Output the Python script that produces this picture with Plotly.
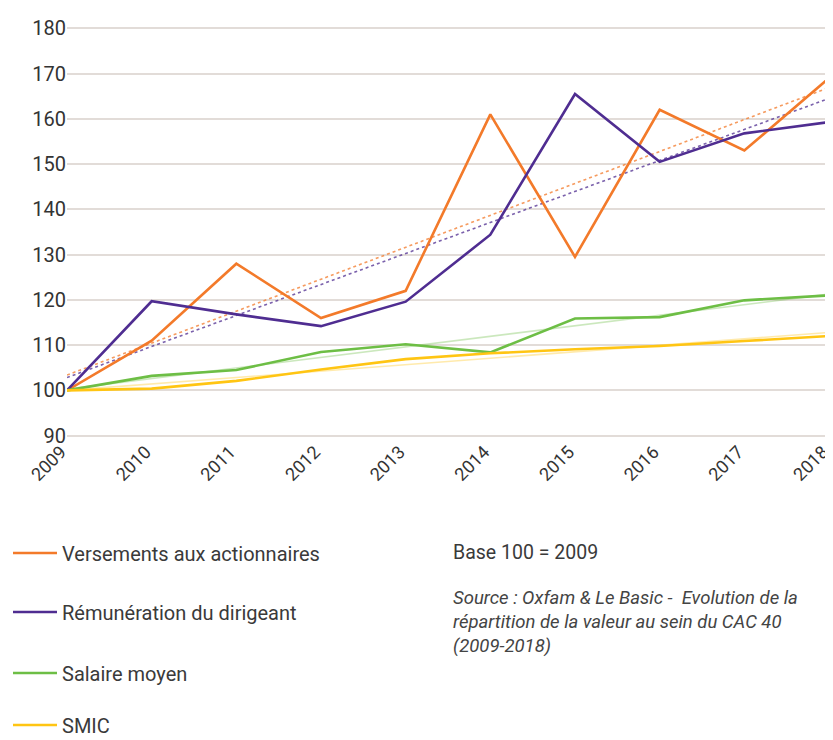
import numpy as np
import plotly.graph_objects as go

years = [2009, 2010, 2011, 2012, 2013, 2014, 2015, 2016, 2017, 2018]
year_labels = [str(y) for y in years]

versements = [100, 111, 128, 116, 122, 161, 129.5, 162, 153, 169]
remuneration = [100, 119.7, 116.8, 114.2, 119.6, 134.4, 165.5, 150.5, 156.8, 159.3]
salaire = [100, 103.2, 104.5, 108.5, 110.2, 108.4, 115.9, 116.2, 119.9, 121]
smic = [100, 100.4, 102.1, 104.6, 106.9, 108.2, 109.1, 109.8, 110.9, 112]

series = [
    ("Versements aux actionnaires", versements, "#F37A2A"),
    ("Rémunération du dirigeant", remuneration, "#4F2D91"),
    ("Salaire moyen", salaire, "#6DBE45"),
    ("SMIC", smic, "#FFC513"),
]

FONT = "Roboto, 'Noto Sans', sans-serif"
W, H = 825, 732  # page body keeps an 8px margin

fig = go.Figure()

# trendlines (linear fit, like the Excel source)
xs = np.arange(len(years))
for i, (name, vals, color) in enumerate(series):
    slope, icpt = np.polyfit(xs, vals, 1)
    trend = list(icpt + slope * xs)
    if i < 2:
        line = dict(color=color, width=1.6, dash="dot")
        op = 0.75
    else:
        line = dict(color=color, width=1.6)
        op = 0.35
    fig.add_trace(go.Scatter(
        x=year_labels, y=trend, mode="lines", line=line, opacity=op,
        showlegend=False, hoverinfo="skip",
    ))

legend_ys = [545, 604, 665, 717]
for i, (name, vals, color) in enumerate(series):
    lg = "legend" if i == 0 else f"legend{i + 1}"
    fig.add_trace(go.Scatter(
        x=year_labels, y=vals, mode="lines", name=name,
        line=dict(color=color, width=2.6),
        legend=lg,
    ))

legend_style = dict(
    xref="container", yref="container", xanchor="left", yanchor="middle",
    x=0, bgcolor="rgba(0,0,0,0)", borderwidth=0,
    font=dict(family=FONT, size=20, color="#3a3a3a"),
    itemwidth=44,
)
fig.update_layout(
    legend=dict(y=1 - legend_ys[0] / H, **legend_style),
    legend2=dict(y=1 - legend_ys[1] / H, **legend_style),
    legend3=dict(y=1 - legend_ys[2] / H, **legend_style),
    legend4=dict(y=1 - legend_ys[3] / H, **legend_style),
)

fig.add_annotation(
    xref="paper", yref="paper", x=(444 - 59) / 763, y=-(543 - 428) / 408,
    xanchor="left", yanchor="middle", showarrow=False,
    text="Base 100 = 2009",
    font=dict(family=FONT, size=19.5, color="#3a3a3a"),
)
fig.add_annotation(
    xref="paper", yref="paper", x=(444 - 59) / 763, y=-(575 - 428) / 408,
    xanchor="left", yanchor="top", showarrow=False, align="left",
    text="<i>Source : Oxfam & Le Basic -  Evolution de la<br>"
         "répartition de la valeur au sein du CAC 40<br>(2009-2018)</i>",
    font=dict(family=FONT, size=18.5, color="#444444"),
)

fig.update_xaxes(
    type="category", range=[0, 9], tickangle=-45, ticklabelshift=-6,
    showgrid=False, showline=False, zeroline=False, ticks="",
    tickfont=dict(family=FONT, size=18, color="#333333"),
)
fig.update_yaxes(
    range=[89.7, 180.3], dtick=10, tick0=90,
    showgrid=True, gridcolor="#e2dcd8", gridwidth=1.5,
    zeroline=False, showline=False, ticks="",
    tickfont=dict(family=FONT, size=20, color="#333333"),
)

fig.update_layout(
    width=W, height=H,
    margin=dict(l=59, r=4, t=19, b=303, autoexpand=False),
    paper_bgcolor="white", plot_bgcolor="white",
    font=dict(family=FONT),
)

fig.write_html("out.html")
